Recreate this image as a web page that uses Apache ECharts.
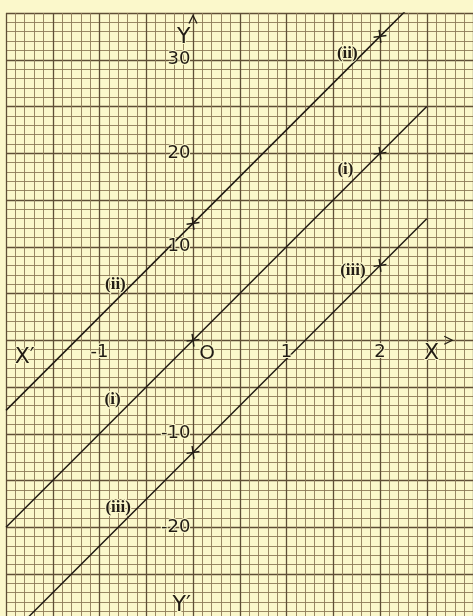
<!DOCTYPE html>
<html>
<head>
<meta charset="utf-8">
<script src="https://cdn.jsdelivr.net/npm/echarts@6/dist/echarts.min.js"></script>
<style>
  html, body { margin: 0; padding: 0; background: #fbf8cb; }
  #chart { width: 473px; height: 616px; }
</style>
</head>
<body>
<div id="chart"></div>
<script>
// x positions where each straight line is sampled (ends + marked points)
const xValues = [-2, 0, 2, 2.5];
// (i) y = 10x
const lineI = [-20, 0, 20, 25];
// (ii) y = 10x + 12.5
const lineII = [-7.5, 12.5, 32.5, 37.5];
// (iii) y = 10x - 12
const lineIII = [-32, -12, 8, 13];
// x values that carry a cross mark
const markedX = [0, 2];

// numbers printed along the axes
const xTickLabels = [-1, 1, 2];
const yTickLabels = [-20, -10, 10, 20, 30];

// line names written beside each line (two places per line)
const lineNames = ['(i)', '(ii)', '(iii)'];

const PAPER = '#fbf8cb';
const INK = '#221c15';
const MAJOR = '#5f4e36';
const MINOR = '#8d7a58';
const CROSS = 'path://M-6,0L6,0M0,-6L0,6';

function pts(ys) { return xValues.map((x, i) => [x, ys[i]]); }

function lineSeries(name, ys) {
  return {
    name: name,
    type: 'line',
    data: pts(ys),
    clip: true,
    symbol: (v) => markedX.includes(v[0]) ? CROSS : 'none',
    symbolSize: 13,
    symbolRotate: 8,
    itemStyle: { color: 'none', borderColor: INK, borderWidth: 1.4 },
    lineStyle: { color: INK, width: 1.5 },
    animation: false,
    silent: true,
    z: 5
  };
}

// text placed at a data location
function textSeries(items, font, place) {
  return {
    type: 'scatter',
    symbolSize: 1,
    itemStyle: { color: 'transparent', opacity: 1 },
    silent: true,
    animation: false,
    clip: false,
    z: 6,
    label: Object.assign({
      show: true, position: 'inside', color: INK, opacity: 1,
      textBorderColor: PAPER, textBorderWidth: 2
    }, font, place || {}),
    data: items.map(it => ({ value: it.at, label: { formatter: it.text } }))
  };
}

const nameFont = { fontFamily: 'Liberation Serif', fontSize: 17, fontWeight: 'bold' };
const letterFont = { fontFamily: 'DejaVu Sans', fontSize: 22, fontWeight: 'normal' };
const numFont = { fontFamily: 'DejaVu Sans', fontSize: 18 };

function axisCommon(extra) {
  return Object.assign({
    type: 'value',
    axisLine: { show: false },
    axisTick: { show: false },
    axisLabel: { show: false },
    minorTick: { show: false, splitNumber: 5 },
    splitLine: { show: true, lineStyle: { color: MAJOR, width: 1.3 } },
    minorSplitLine: { show: true, lineStyle: { color: MINOR, width: 0.9 } }
  }, extra);
}

const chart = echarts.init(document.getElementById('chart'), null, { renderer: 'canvas' });

chart.setOption({
  backgroundColor: PAPER,
  animation: false,
  grid: {
    left: 6, top: 13, width: 467.5, height: 607.75,
    containLabel: false, outerBoundsMode: 'none'
  },
  xAxis: axisCommon({ min: -2, max: 3, interval: 0.5 }),
  yAxis: axisCommon({ min: -30, max: 35, interval: 5 }),
  series: [
    lineSeries(lineNames[0], lineI),
    lineSeries(lineNames[1], lineII),
    lineSeries(lineNames[2], lineIII),
    // scale numbers written against the axes through the origin
    textSeries(xTickLabels.map(v => ({ text: String(v), at: [v, 0] })), numFont,
      { position: 'bottom', distance: 3 }),
    textSeries(yTickLabels.map(v => ({ text: String(v), at: [0, v] })), numFont,
      { position: 'left', distance: 2 }),
    textSeries([
      { text: lineNames[1], at: [1.65, 30.7] },
      { text: lineNames[0], at: [1.63, 18.2] },
      { text: lineNames[2], at: [1.71, 7.5] },
      { text: lineNames[1], at: [-0.83, 5.9] },
      { text: lineNames[0], at: [-0.86, -6.4] },
      { text: lineNames[2], at: [-0.80, -17.9] }
    ], nameFont),
    textSeries([
      { text: 'X′', at: [-1.8, -1.8] },
      { text: 'X', at: [2.55, -1.4] },
      { text: 'Y', at: [-0.1, 32.4] },
      { text: 'Y′', at: [-0.12, -28.3] }
    ], letterFont),
    textSeries([
      { text: 'O', at: [0.15, -1.5] }
    ], { fontFamily: 'DejaVu Sans', fontSize: 20 }),
    {
      // arrow heads at the positive ends of the axes
      type: 'scatter',
      silent: true, animation: false, z: 6,
      symbol: 'path://M0,0L8,4L0,8',
      symbolSize: [8, 8],
      itemStyle: { color: 'none', borderColor: INK, borderWidth: 1.3, opacity: 1 },
      data: [
        { value: [2.73, 0], symbolRotate: 0 },
        { value: [0, 34.3], symbolRotate: 90 }
      ]
    }
  ]
});
</script>
</body>
</html>
